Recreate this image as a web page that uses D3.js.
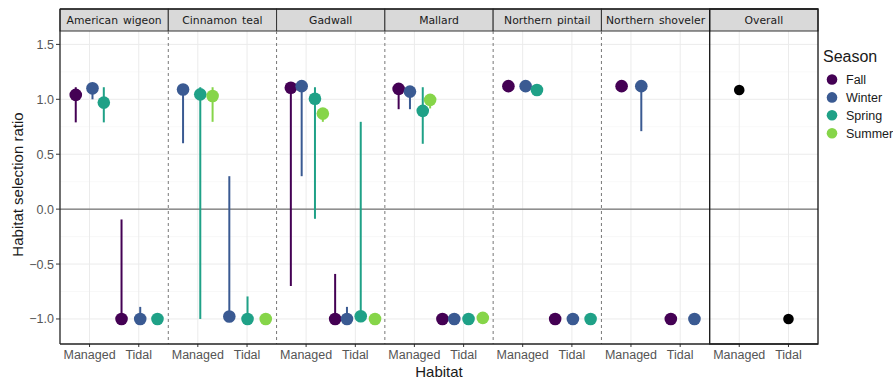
<!DOCTYPE html>
<html>
<head>
<meta charset="utf-8">
<script src="https://cdn.jsdelivr.net/npm/d3@7"></script>
<style>
  body { margin: 0; background: #fff; }
  svg { display: block; }
</style>
</head>
<body>
<div id="chart"></div>
<script>
const facets = ['American wigeon', 'Cinnamon teal', 'Gadwall', 'Mallard', 'Northern pintail', 'Northern shoveler', 'Overall'];
const habitats = ['Managed', 'Tidal'];
const seasons = ['Fall', 'Winter', 'Spring', 'Summer'];
const seasonColors = ['#440154', '#3a5a92', '#1fa187', '#86d549'];
const yTicks = [-1.0, -0.5, 0.0, 0.5, 1.0, 1.5];
const yMinor = [-0.75, -0.25, 0.25, 0.75, 1.25];

// habitat, season, ratio, lower, upper, jitter (category units)
const americanWigeon = [
  ['Managed', 'Fall', 1.04, 0.79, 1.11, -0.28],
  ['Managed', 'Winter', 1.10, 1.00, 1.10, 0.06],
  ['Managed', 'Spring', 0.97, 0.79, 1.11, 0.29],
  ['Tidal', 'Fall', -1.0, -1.0, -0.094, -0.35],
  ['Tidal', 'Winter', -1.0, -1.0, -0.89, 0.03],
  ['Tidal', 'Spring', -1.0, null, null, 0.38],
];
const cinnamonTeal = [
  ['Managed', 'Winter', 1.09, 0.60, 1.09, -0.30],
  ['Managed', 'Spring', 1.045, -1.0, 1.11, 0.05],
  ['Managed', 'Summer', 1.03, 0.795, 1.11, 0.30],
  ['Tidal', 'Winter', -0.977, -0.977, 0.30, -0.36],
  ['Tidal', 'Spring', -1.0, -1.0, -0.795, 0.01],
  ['Tidal', 'Summer', -1.0, null, null, 0.38],
];
const gadwall = [
  ['Managed', 'Fall', 1.105, -0.70, 1.105, -0.31],
  ['Managed', 'Winter', 1.12, 0.30, 1.12, -0.09],
  ['Managed', 'Spring', 1.005, -0.088, 1.11, 0.18],
  ['Managed', 'Summer', 0.87, 0.795, 0.87, 0.34],
  ['Tidal', 'Fall', -1.0, -1.0, -0.59, -0.41],
  ['Tidal', 'Winter', -1.0, -1.0, -0.89, -0.17],
  ['Tidal', 'Spring', -0.975, -0.975, 0.795, 0.11],
  ['Tidal', 'Summer', -1.0, null, null, 0.40],
];
const mallard = [
  ['Managed', 'Fall', 1.095, 0.91, 1.095, -0.32],
  ['Managed', 'Winter', 1.07, 0.91, 1.07, -0.09],
  ['Managed', 'Spring', 0.895, 0.595, 1.11, 0.17],
  ['Managed', 'Summer', 0.995, 0.917, 0.995, 0.32],
  ['Tidal', 'Fall', -1.0, null, null, -0.43],
  ['Tidal', 'Winter', -1.0, null, null, -0.19],
  ['Tidal', 'Spring', -1.0, null, null, 0.10],
  ['Tidal', 'Summer', -0.99, null, null, 0.39],
];
const northernPintail = [
  ['Managed', 'Fall', 1.12, null, null, -0.29],
  ['Managed', 'Winter', 1.12, null, null, 0.06],
  ['Managed', 'Spring', 1.085, null, null, 0.29],
  ['Tidal', 'Fall', -1.0, null, null, -0.34],
  ['Tidal', 'Winter', -1.0, null, null, 0.02],
  ['Tidal', 'Spring', -1.0, null, null, 0.38],
];
const northernShoveler = [
  ['Managed', 'Fall', 1.12, null, null, -0.19],
  ['Managed', 'Winter', 1.12, 0.71, 1.12, 0.21],
  ['Tidal', 'Fall', -1.0, null, null, -0.19],
  ['Tidal', 'Winter', -1.0, null, null, 0.29],
];
const overall = [
  ['Managed', null, 1.085, null, null, 0],
  ['Tidal', null, -1.0, null, null, 0],
];
const facetData = [americanWigeon, cinnamonTeal, gadwall, mallard, northernPintail, northernShoveler, overall];

const W = 893, H = 383;
const plotLeft = 60, plotRight = 818, stripTop = 9, plotTop = 31, plotBottom = 344;
const pw = (plotRight - plotLeft) / facets.length;

const svg = d3.select('#chart').append('svg').attr('width', W).attr('height', H);
const axisFont = 'Liberation Sans, Arial, sans-serif';

const y = d3.scaleLinear().domain([-1.228, 1.622]).range([plotBottom, plotTop]);
const x = d3.scalePoint().domain(habitats).range([0, pw]).padding(0.6);
const color = d3.scaleOrdinal().domain(seasons).range(seasonColors);

facets.forEach((name, i) => {
  const g = svg.append('g').attr('transform', `translate(${plotLeft + i * pw},0)`);

  // grid
  g.selectAll('.minor').data(yMinor).join('line')
    .attr('x1', 0).attr('x2', pw).attr('y1', d => y(d)).attr('y2', d => y(d))
    .attr('stroke', '#f3f3f3').attr('stroke-width', 0.6);
  g.selectAll('.major').data(yTicks).join('line')
    .attr('x1', 0).attr('x2', pw).attr('y1', d => y(d)).attr('y2', d => y(d))
    .attr('stroke', '#ebebeb').attr('stroke-width', 1);
  g.selectAll('.vgrid').data(habitats).join('line')
    .attr('x1', d => x(d)).attr('x2', d => x(d)).attr('y1', plotTop).attr('y2', plotBottom)
    .attr('stroke', '#ebebeb').attr('stroke-width', 1);

  // zero line
  g.append('line').attr('x1', 0).attr('x2', pw).attr('y1', y(0)).attr('y2', y(0))
    .attr('stroke', '#555').attr('stroke-width', 1);

  // strip
  g.append('rect').attr('x', 0).attr('y', stripTop).attr('width', pw).attr('height', plotTop - stripTop)
    .attr('fill', '#d9d9d9').attr('stroke', '#333').attr('stroke-width', 1);
  g.append('text').attr('x', pw / 2).attr('y', (stripTop + plotTop) / 2 + 4.2)
    .attr('text-anchor', 'middle').attr('font-family', 'DejaVu Sans, Verdana, sans-serif')
    .attr('font-size', 10.8).attr('fill', '#1a1a1a').attr('word-spacing', 1.5).text(name);

  const rows = facetData[i];
  const px = d => x(d[0]) + d[5] * x.step();

  g.selectAll('.err').data(rows.filter(d => d[3] !== null)).join('line')
    .attr('x1', px).attr('x2', px)
    .attr('y1', d => y(d[3])).attr('y2', d => y(d[4]))
    .attr('stroke', d => d[1] ? color(d[1]) : '#000').attr('stroke-width', 2);

  g.selectAll('.pt').data(rows).join('circle')
    .attr('cx', px).attr('cy', d => y(d[2]))
    .attr('r', d => d[1] ? 6.3 : 5.3)
    .attr('fill', d => d[1] ? color(d[1]) : '#000');

  // x ticks
  g.selectAll('.xt').data(habitats).join('line')
    .attr('x1', d => x(d)).attr('x2', d => x(d)).attr('y1', plotBottom).attr('y2', plotBottom + 3)
    .attr('stroke', '#333');
  g.selectAll('.xl').data(habitats).join('text')
    .attr('x', d => x(d)).attr('y', plotBottom + 15).attr('text-anchor', 'middle')
    .attr('font-family', axisFont).attr('font-size', 12.5).attr('fill', '#555').text(d => d);
});

// panel separators
for (let i = 1; i < facets.length - 1; i++) {
  svg.append('line').attr('x1', plotLeft + i * pw).attr('x2', plotLeft + i * pw)
    .attr('y1', plotTop).attr('y2', plotBottom)
    .attr('stroke', '#777').attr('stroke-width', 1).attr('stroke-dasharray', '3,3');
}
// Overall panel frame
svg.append('rect').attr('x', plotLeft + 6 * pw).attr('y', stripTop).attr('width', pw).attr('height', plotBottom - stripTop)
  .attr('fill', 'none').attr('stroke', '#111').attr('stroke-width', 1.3);
// axis lines
svg.append('line').attr('x1', plotLeft).attr('x2', plotRight).attr('y1', plotBottom).attr('y2', plotBottom)
  .attr('stroke', '#222').attr('stroke-width', 1.3);
svg.append('line').attr('x1', plotLeft).attr('x2', plotLeft).attr('y1', stripTop).attr('y2', plotBottom)
  .attr('stroke', '#222').attr('stroke-width', 1.3);
svg.append('line').attr('x1', plotLeft).attr('x2', plotRight).attr('y1', stripTop).attr('y2', stripTop)
  .attr('stroke', '#222').attr('stroke-width', 1.3);

// y axis
const ya = svg.append('g');
ya.selectAll('line').data(yTicks).join('line')
  .attr('x1', plotLeft - 4).attr('x2', plotLeft).attr('y1', d => y(d)).attr('y2', d => y(d)).attr('stroke', '#333');
ya.selectAll('text').data(yTicks).join('text')
  .attr('x', plotLeft - 6).attr('y', d => y(d) + 4.5).attr('text-anchor', 'end')
  .attr('font-family', axisFont).attr('font-size', 12.5).attr('fill', '#555')
  .text(d => d3.format('.1f')(d).replace('-', '\u2212'));

// axis titles
svg.append('text').attr('transform', `translate(23,${(plotTop + plotBottom) / 2 - 3}) rotate(-90)`)
  .attr('text-anchor', 'middle').attr('font-family', axisFont).attr('font-size', 15)
  .attr('fill', '#1a1a1a').text('Habitat selection ratio');
svg.append('text').attr('x', (plotLeft + plotRight) / 2).attr('y', 377).attr('text-anchor', 'middle')
  .attr('font-family', axisFont).attr('font-size', 15).attr('fill', '#1a1a1a').text('Habitat');

// legend
const lg = svg.append('g');
lg.append('text').attr('x', 823).attr('y', 62).attr('font-family', axisFont).attr('font-size', 16)
  .attr('fill', '#1a1a1a').text('Season');
seasons.forEach((s, i) => {
  const cy = 79.5 + i * 17.9;
  lg.append('circle').attr('cx', 832).attr('cy', cy).attr('r', 5.3).attr('fill', color(s));
  lg.append('text').attr('x', 846).attr('y', cy + 4.3).attr('font-family', axisFont)
    .attr('font-size', 12.5).attr('fill', '#1a1a1a').text(s);
});
</script>
</body>
</html>
